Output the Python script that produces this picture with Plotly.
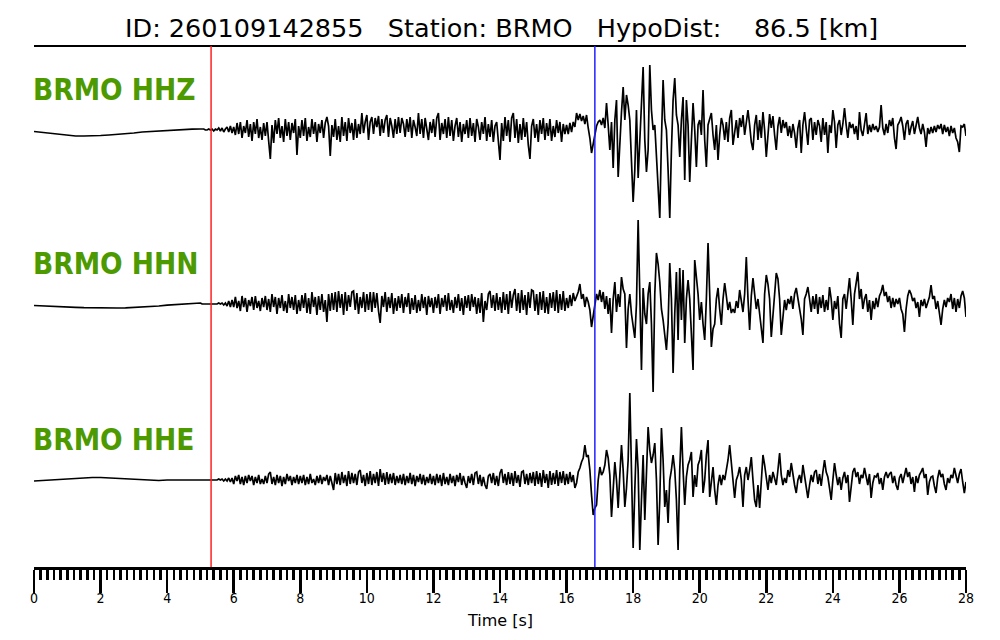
import plotly.graph_objects as go

# ---------------- data (amplitudes in screen-pixel units, + = up) ----------------
PRE_STEP = 0.25      # s, pre-event samples (0 .. 4.75 s)
EVT_START = 5.0      # s
EVT_STEP = 0.05      # s

P_PICK = 5.32        # s (red)
S_PICK = 16.85       # s (blue)

TICK_LABELS = ["0", "2", "4", "6", "8", "10", "12", "14", "16", "18", "20", "22", "24", "26", "28"]

CHANNELS = ["BRMO HHZ", "BRMO HHN", "BRMO HHE"]
OFFSETS = [437, 263, 87]

HHZ_PRE = [-1.5, -2.5, -3.5, -4.5, -5.5, -6, -6, -6, -5.5, -5, -4.5, -3.5, -3, -2, -1.5, -0.5, 0, 0.5, 0.5, 0.8]
HHZ_EVT = [
    1, 1, 1, 0, 0, 1, 0, 1, -1, 1, 0, 2, -1, 2, -2, 1, 3, -2, 4, -3,
    3, -5, 7, -4, 8, -8, 4, -3, 10, -7, 6, -11, 8, -4, 11, -8, 3, -10, 7, -6,
    8, -11, -29, 5, -13, 10, -4, 12, -8, 4, -12, 11, -6, 8, -10, 7, -3, 11, -25, 4,
    -8, 10, -6, 12, -11, 3, -7, 11, -4, 8, -12, 6, -3, 10, -8, 7, 13, 4, -26, 5,
    -7, 11, -10, 4, -12, 13, -6, 8, -11, 12, -3, 7, -10, 11, -8, 6, -4, 17, -3, 8,
    15, -10, 8, 13, -4, 12, 3, 14, -6, 11, -3, 10, 15, -7, 12, 4, -8, 11, -4, 13,
    -3, 12, 6, -7, 11, -2, 13, -8, 10, 3, -6, 17, -4, 11, -8, 12, 2, -10, 8, -3,
    11, -7, 12, 17, -10, 7, -4, 11, -8, 13, -6, 10, -11, 4, 12, -7, 8, -12, 6, -4,
    10, -8, 12, -6, 7, -12, 11, 3, -10, 8, -4, 13, -11, 6, -7, 10, -12, 4, 8, -11,
    -30, 7, -11, 13, -6, 10, -12, 12, 17, -8, 11, -13, 6, -10, 12, -7, 8, -15, -29, 4,
    11, -8, 6, -12, 10, -4, 12, -10, 7, -6, 11, -11, 4, -7, 10, -3, 8, -12, 6, -4,
    5, -4, 7, -2, 8, 3, 17, 10, 16, 9, 14, 6, 15, 2, -8, -23, -15, -6, 4, 8,
    10, 5, 12, 2, 27, 5, -20, 8, -38, 10, 30, -47, -10, 18, 43, 10, 35, 25, 10, -30,
    -72, -40, 20, -48, -5, 30, 63, -10, -42, -20, 65, 20, 0, 5, -30, -60, -88, -10, 50, 10,
    0, -40, -88, -20, 30, 52, 15, 5, -27, 10, 33, -50, 30, 5, -52, -10, 27, 0, -37, 5,
    10, -5, 40, -10, -37, 5, 10, 17, -5, -20, 5, -30, -5, 12, 5, -10, 8, -12, 12, 20,
    -15, 0, 10, -8, 12, 3, 15, -5, 8, 20, 5, -12, -20, 5, 15, -10, 10, -8, 18, 0,
    -27, -5, 16, 2, 14, -5, -20, 4, 13, -3, 10, 2, 8, -6, 4, -8, 6, -3, -18, 2,
    10, -23, 5, 18, 0, -15, 10, 12, -10, 8, -5, 10, 4, -12, 12, -5, 8, -23, 5, -3,
    20, 8, -18, 5, 10, -5, 6, 22, 5, -8, 8, 2, 6, -4, 4, -10, 18, 0, -6, 8,
    17, -4, 5, -2, 6, 0, 4, -2, 3, 25, 2, -5, 6, -3, 10, 4, 12, -8, -19, 5,
    8, 13, 4, -10, 6, 10, -5, 3, 9, -4, 5, 13, 2, -4, 6, -2, -17, 2, -4, 3,
    -3, 4, -2, 5, 1, 6, -4, 5, -2, 3, -6, 4, -3, 2, -8, -12, -22, 4, 3, 6, -6,
]

HHN_PRE = [-1.5, -2, -2.3, -2.6, -3, -3.3, -3.6, -3.8, -4, -4, -4, -3.8, -3.5, -3, -2.5, -2, -1.2, -0.5, 0.3, 0.8]
HHN_EVT = [
    1, 0, 0, 0, 0, 0, 0, 0, 0, 0, 0, 1, 0, 1, -1, 1, -2, 3, -3, 4,
    -3, 7, -4, 3, -7, 8, -3, 6, -8, 4, -2, 7, -6, 8, -4, 3, -7, 6, -3, 8,
    -6, 5, -8, 10, -3, 7, -10, 6, -4, 9, -7, 3, -9, 10, -4, 7, -6, 9, -10, 4,
    -7, 9, -4, 11, -9, 6, -10, 12, -3, 7, -11, 8, -6, 10, -8, 4, -18, 10, -7, 11,
    -6, 12, -8, 13, -4, 10, -11, 12, -7, 9, -3, 12, 13, -6, 11, -10, 7, -4, 12, -8,
    10, -6, 12, -8, 12, -4, 11, -7, -19, 8, -3, 12, -8, 7, -4, 11, -10, 6, -7, 8,
    -4, 10, -9, 7, -3, 11, -10, 6, -6, 9, -9, 4, -7, 10, -4, 7, -11, 8, -3, 6,
    -9, 7, -4, 10, -10, 6, -3, 9, -7, 11, -6, 4, -9, 7, -4, 10, -7, 6, -11, 8,
    -4, 9, -7, 10, -3, 7, -10, 6, -9, 11, -18, 3, -6, 10, 13, -4, 9, -7, 11, -6,
    7, -9, 12, -6, 10, -10, 13, -4, 9, 15, -7, 11, -9, 14, -6, 9, -11, 12, -4, 14,
    13, -7, 10, -11, 12, -6, 13, -9, 7, -10, 11, -4, 12, -7, 14, -9, 10, -6, 13, -7,
    6, -4, 9, -2, 11, 3, 8, 12, 20, 5, 10, -3, 7, 2, -6, -23, -12, -3, 10, 4,
    14, 2, 12, -5, 8, -10, 6, -29, 5, 22, -8, 10, -3, 27, 15, 10, -44, -5, 10, -10,
    -20, -34, 0, 84, 10, -66, 16, -10, -20, 10, 22, -20, -88, 10, 51, 40, 22, -5, -16, -30,
    -46, -20, 41, 5, -69, -10, 32, -36, 36, -16, 34, -39, 5, 24, 5, -30, -66, 44, 30, 10,
    -16, 2, -20, -36, 5, 61, 10, -43, -25, -20, 5, 16, -5, -21, 5, 21, 8, -6, 2, -9,
    -5, -9, 3, -4, 14, 5, -8, 10, 47, 5, -26, 8, 26, 10, -5, 5, -10, -20, -39, 10,
    29, 20, 5, -33, -10, 10, 31, 25, 5, -31, -10, 4, -6, 5, 0, 8, -5, 10, 16, 5,
    -5, -15, -31, 5, 10, 17, 5, -8, 8, -5, 10, -10, 7, -4, 9, -8, 4, -6, 17, 5,
    -16, 3, -5, 8, -20, -34, 5, 10, -5, 12, 26, 5, -21, 10, 20, 32, 5, 15, -5, 5,
    10, -8, 4, -16, 3, -5, 6, -3, 8, 12, 19, 8, 12, 2, 8, -4, 6, -3, 5, 0,
    6, -5, -10, -28, -5, 8, 14, 10, 3, 6, -4, 2, -13, 4, -2, 5, -4, 3, 7, 19,
    5, 8, -5, 3, -8, -21, -5, 4, -3, 6, 2, 10, -5, 6, -8, 5, -4, 8, 13, 6, -13,
]

HHE_PRE = [-1, -0.5, 0, 1, 1.5, 2, 2.5, 2.5, 2.5, 2, 1.5, 1, 0.5, 0, -0.5, -0.5, 0, 0, 0.5, 0.5]
HHE_EVT = [
    0, 0, 0, 0, 0, 0, 0, 0, 0, 0, 0, 1, 0, 1, -1, 1, -1, 2, -2, 2,
    -4, 4, -1, 5, -4, 3, -5, 4, -3, 5, -1, 4, -5, 3, -3, 5, -4, 1, -4, 4,
    -3, 6, 8, -4, 3, -5, 5, -3, 4, -6, 3, -4, 6, -1, 4, -5, 3, -3, 5, -4,
    4, -3, 5, -5, 3, -4, 6, -3, 1, -5, 4, -3, 5, -4, 3, -1, 5, -5, 4, -3,
    -10, 7, -4, 6, -5, 8, -3, 5, -6, 9, -4, 7, -3, 6, -5, 8, 10, -3, 5, -6,
    7, -4, 9, -5, 6, -3, 8, -6, 11, -2, 7, -5, 8, -4, 6, -3, 7, -5, 4, -3,
    5, -4, 6, -5, 4, -3, 7, -4, 5, -6, 4, -2, 6, -4, 5, -5, 3, -3, 6, -4,
    4, -5, 6, -3, 5, -6, 7, -4, 3, -5, 6, -3, 4, -6, 5, -2, 7, -5, 4, -3,
    -8, 4, -3, 6, -5, 7, 8, -4, 5, -6, 3, -5, -9, 4, 6, -3, 7, -5, 4, -6,
    7, 11, -3, 6, -5, 8, -4, 7, -6, 9, -3, 5, -7, 8, 9, -4, 6, -5, 7, -3,
    8, -6, 9, -4, 7, -7, 10, -3, 6, -8, 9, -5, 7, -4, 10, -6, 8, -3, 9, -5,
    6, -4, 8, -2, 5, -8, -3, 8, 12, 18, 22, 35, 23, 25, 10, -15, -35, -28, -25, 0,
    13, 5, 8, 15, 30, 22, 5, -37, -5, 18, 0, -28, 5, 35, 10, -27, -8, 20, 87, 20,
    -68, -10, 41, 10, -70, -20, 25, -40, 0, 53, 30, 17, 25, 37, 0, -65, -20, 52, 20, -27,
    -10, -43, 0, 10, 25, 10, -20, -70, 10, 53, 10, -25, 3, 15, 20, 28, -17, 5, -7, 15,
    20, 30, -13, 0, 25, 40, -17, 0, 13, -10, -25, -5, 5, -5, 5, 0, 10, 20, 35, 15,
    -5, -18, 0, 5, 13, 0, -27, 5, 13, 0, 10, 23, 0, -20, -27, -5, -28, 5, 25, 15,
    0, -10, 5, -3, 8, 2, -5, 10, 27, 5, -5, 2, -3, 10, 3, 17, 5, -5, -13, 0,
    5, -3, 15, 5, -8, -18, -5, 5, -2, 8, 10, -4, 6, -6, 8, 20, 8, 3, -8, -20,
    0, 17, 5, -5, 3, -10, 2, 8, -3, 5, -22, -5, 8, 12, 3, 8, -4, 5, 2, 12,
    5, -5, 6, -18, -3, 4, 3, 7, -4, 2, -10, 3, 8, 2, 6, 8, -3, 4, -5, -10,
    2, 6, -3, 5, 12, 3, 8, -4, 3, -12, 4, -3, 5, 8, 12, 2, 6, -15, -2, 3,
    4, -6, -13, 2, 10, 3, 6, -4, -10, 2, -3, 5, 2, 12, 4, -3, 6, 11, -2, -13, -2,
]

TRACES = [(HHZ_PRE, HHZ_EVT), (HHN_PRE, HHN_EVT), (HHE_PRE, HHE_EVT)]

TITLE = "ID: 260109142855   Station: BRMO   HypoDist:    86.5 [km]"
XLABEL = "Time [s]"

# ---------------- figure ----------------
W, H = 1000, 640
ML, MR, MT, MB = 34, 34, 46, 73
PLOT_H = H - MT - MB

fig = go.Figure()
for (pre, evt), off in zip(TRACES, OFFSETS):
    t = [i * PRE_STEP for i in range(len(pre))] + [EVT_START + i * EVT_STEP for i in range(len(evt))]
    y = [off + v for v in list(pre) + list(evt)]
    fig.add_trace(go.Scatter(x=t, y=y, mode="lines",
                             line=dict(color="black", width=1.7),
                             hoverinfo="skip", showlegend=False))

REG_FONT = "DejaVu Sans, sans-serif"
COND_FONT = "DejaVu Sans Condensed, DejaVu Sans, sans-serif"
annotations = [
    dict(text=TITLE.replace(" ", "\u00a0"), xref="paper", yref="paper",
         x=0.502, y=1 + (MT - 28) / PLOT_H, xanchor="center", yanchor="middle",
         showarrow=False, font=dict(family=REG_FONT, size=25.5, color="black")),
    dict(text=XLABEL, xref="paper", yref="paper",
         x=0.5, y=-(620 - (H - MB)) / PLOT_H, xanchor="center", yanchor="middle",
         showarrow=False, font=dict(family=REG_FONT, size=16, color="black")),
]
for name, off in zip(CHANNELS, OFFSETS):
    annotations.append(dict(text="<b>" + name + "</b>", xref="paper", yref="y",
                            x=0, y=off + 40, xanchor="left", yanchor="middle",
                            xshift=-3, showarrow=False,
                            font=dict(family=COND_FONT, size=29.5, color="#4c9a00")))

shapes = [
    dict(type="line", xref="paper", yref="paper", x0=0, x1=1, y0=1, y1=1,
         line=dict(color="black", width=2)),
    dict(type="line", xref="x", yref="paper", x0=P_PICK, x1=P_PICK, y0=0, y1=1,
         line=dict(color="#ff2020", width=1.5)),
    dict(type="line", xref="x", yref="paper", x0=S_PICK, x1=S_PICK, y0=0, y1=1,
         line=dict(color="#2020ff", width=1.5)),
]

fig.update_layout(
    width=W, height=H,
    margin=dict(l=ML, r=MR, t=MT, b=MB, pad=0),
    paper_bgcolor="white", plot_bgcolor="white",
    showlegend=False,
    annotations=annotations,
    shapes=shapes,
    xaxis=dict(
        range=[0, 28], showgrid=False, zeroline=False,
        showline=True, linecolor="black", linewidth=2.5,
        ticks="outside", ticklen=23, tickwidth=2.5, tickcolor="black",
        tickmode="array", tickvals=[int(s) for s in TICK_LABELS], ticktext=TICK_LABELS,
        tickfont=dict(family=COND_FONT, size=14, color="black"),
        ticklabelstandoff=-6,
        minor=dict(ticks="outside", ticklen=10, tickwidth=2.5, tickcolor="black",
                   dtick=0.2, tick0=0, showgrid=False),
        fixedrange=True,
    ),
    yaxis=dict(range=[0, PLOT_H], visible=False, fixedrange=True),
)

fig.write_html("out.html", config={"displayModeBar": False, "staticPlot": True},
               post_script="document.body.style.margin='0px';document.body.style.overflow='hidden';")
